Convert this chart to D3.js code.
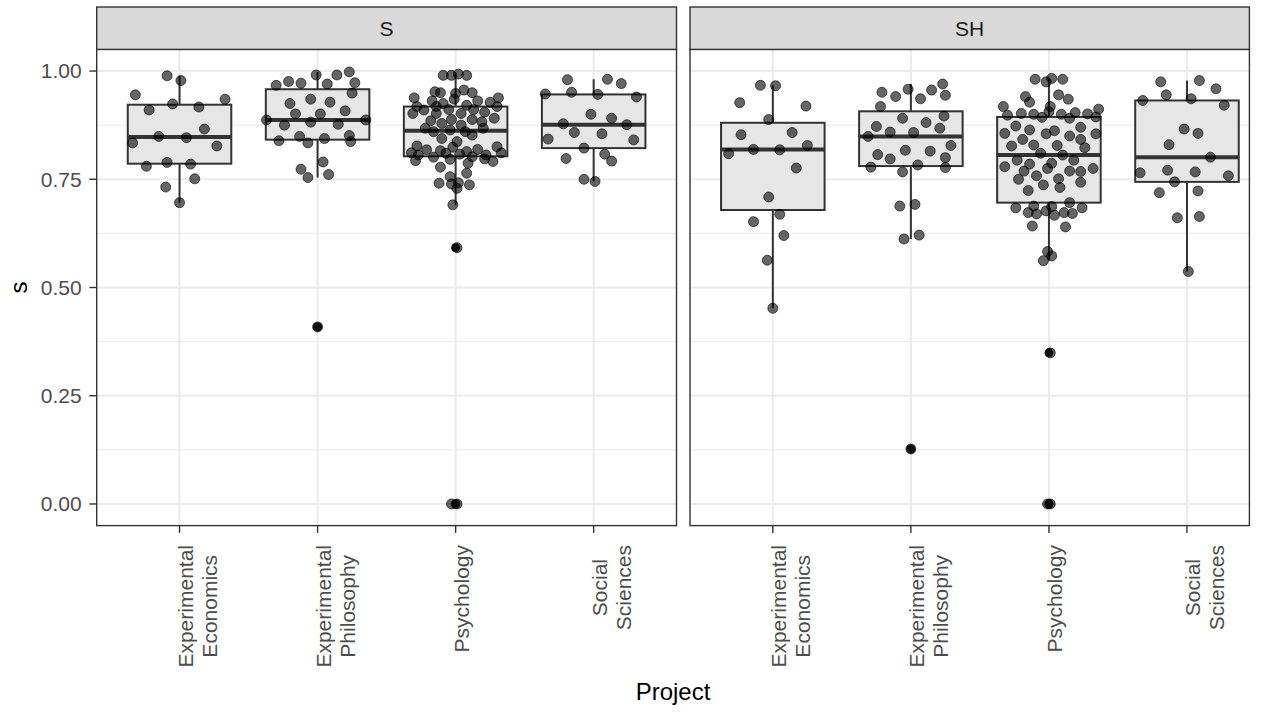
<!DOCTYPE html>
<html>
<head>
<meta charset="utf-8">
<script src="https://cdn.jsdelivr.net/npm/d3@7"></script>
<style>
  body { margin: 0; background: #fff; }
  svg { display: block; }
  text { font-family: "Liberation Sans", Arial, Helvetica, sans-serif; }
</style>
</head>
<body>
<svg id="chart" width="1264" height="713"></svg>
<script>
// ---- categories and facets ----
const projects = ["Experimental Economics", "Experimental Philosophy", "Psychology", "Social Sciences"];
const projectLabels = [["Experimental", "Economics"], ["Experimental", "Philosophy"], ["Psychology"], ["Social", "Sciences"]];
const facets = ["S", "SH"];
const yTicks = [0, 0.25, 0.5, 0.75, 1];
const yTickLabels = ["0.00", "0.25", "0.50", "0.75", "1.00"];
const yMinorTicks = [0.125, 0.375, 0.625, 0.875];

// ---- s values, facet S ----
const sEconS = [0.989, 0.978, 0.945, 0.935, 0.924, 0.910, 0.917, 0.866, 0.849, 0.846, 0.834, 0.827, 0.780, 0.789, 0.785, 0.751, 0.732, 0.696];
const sPhilS = [0.991, 0.998, 0.991, 0.976, 0.972, 0.967, 0.970, 0.973, 0.949, 0.935, 0.925, 0.928, 0.901, 0.901, 0.908, 0.887, 0.887, 0.882, 0.875, 0.877, 0.839, 0.849, 0.834, 0.844, 0.851, 0.837, 0.790, 0.773, 0.754, 0.761, 0.409];
const sPsychS = [0.990, 0.990, 0.993, 0.990, 0.952, 0.950, 0.956, 0.948, 0.950, 0.938, 0.931, 0.925, 0.935, 0.931, 0.938, 0.918, 0.910, 0.918, 0.911, 0.921, 0.911, 0.928, 0.918, 0.902, 0.902, 0.902, 0.888, 0.905, 0.891, 0.885, 0.888, 0.883, 0.868, 0.879, 0.875, 0.868, 0.860, 0.864, 0.860, 0.852, 0.844, 0.837, 0.824, 0.827, 0.811, 0.806, 0.818, 0.816, 0.810, 0.814, 0.819, 0.806, 0.825, 0.811, 0.793, 0.801, 0.796, 0.808, 0.802, 0.797, 0.791, 0.778, 0.787, 0.764, 0.756, 0.741, 0.739, 0.742, 0.737, 0.729, 0.691, 0.592, 0.000, 0.000];
const sSocS = [0.980, 0.981, 0.971, 0.947, 0.951, 0.946, 0.940, 0.900, 0.891, 0.878, 0.876, 0.858, 0.855, 0.843, 0.841, 0.822, 0.798, 0.808, 0.792, 0.750, 0.745];

// ---- s values, facet SH ----
const sEconSH = [0.967, 0.966, 0.927, 0.919, 0.888, 0.853, 0.858, 0.828, 0.809, 0.819, 0.818, 0.776, 0.709, 0.669, 0.652, 0.620, 0.563, 0.452];
const sPhilSH = [0.951, 0.941, 0.958, 0.936, 0.956, 0.970, 0.944, 0.918, 0.891, 0.881, 0.896, 0.872, 0.868, 0.859, 0.858, 0.849, 0.828, 0.807, 0.817, 0.815, 0.797, 0.800, 0.778, 0.783, 0.777, 0.767, 0.688, 0.692, 0.612, 0.621, 0.127];
const sPsychSH = [0.981, 0.975, 0.983, 0.981, 0.941, 0.928, 0.945, 0.935, 0.918, 0.918, 0.898, 0.902, 0.900, 0.893, 0.906, 0.900, 0.891, 0.904, 0.901, 0.894, 0.912, 0.873, 0.864, 0.856, 0.855, 0.862, 0.850, 0.870, 0.855, 0.842, 0.842, 0.827, 0.829, 0.828, 0.823, 0.810, 0.806, 0.794, 0.794, 0.785, 0.787, 0.779, 0.769, 0.775, 0.769, 0.768, 0.775, 0.750, 0.758, 0.751, 0.743, 0.737, 0.731, 0.724, 0.684, 0.688, 0.687, 0.696, 0.684, 0.673, 0.670, 0.677, 0.667, 0.673, 0.671, 0.642, 0.640, 0.583, 0.573, 0.562, 0.349, 0.000, 0.000];
const sSocSH = [0.975, 0.978, 0.959, 0.945, 0.932, 0.936, 0.921, 0.866, 0.856, 0.830, 0.801, 0.765, 0.771, 0.767, 0.758, 0.744, 0.719, 0.723, 0.661, 0.664, 0.537];

// ---- horizontal jitter of each point, as a fraction of the category step ----
const jitEconS = [-0.09, 0.01, -0.32, 0.33, -0.05, -0.22, 0.14, 0.18, -0.15, 0.05, -0.34, 0.27, -0.24, -0.09, 0.08, 0.11, -0.10, 0.00];
const jitPhilS = [-0.01, 0.23, 0.14, -0.21, -0.12, -0.30, 0.07, 0.27, 0.25, -0.05, -0.20, 0.09, -0.16, 0.02, 0.20, -0.37, 0.35, -0.05, -0.24, 0.15, -0.28, -0.13, -0.07, 0.05, 0.23, 0.24, 0.04, -0.12, -0.07, 0.08, 0.00];
const jitPsychS = [-0.09, -0.03, 0.02, 0.08, -0.15, -0.11, 0.06, 0.00, 0.12, -0.30, -0.17, -0.09, -0.01, 0.16, 0.31, -0.28, -0.23, -0.14, -0.05, 0.08, 0.13, 0.25, 0.30, -0.31, -0.14, 0.04, 0.12, 0.21, 0.28, -0.18, -0.03, 0.19, -0.22, -0.10, 0.04, 0.20, -0.16, -0.04, 0.07, 0.12, -0.10, 0.01, -0.02, -0.28, -0.32, -0.27, -0.21, -0.11, -0.07, 0.08, 0.16, 0.22, 0.30, 0.33, -0.29, -0.16, -0.04, 0.03, 0.12, 0.21, 0.27, -0.11, 0.09, 0.08, -0.04, -0.12, -0.03, 0.02, 0.10, 0.01, -0.02, 0.01, -0.03, 0.01];
const jitSocS = [-0.19, 0.10, 0.20, -0.35, -0.16, 0.03, 0.31, -0.02, 0.13, -0.22, 0.24, -0.14, 0.06, -0.33, 0.29, -0.07, -0.20, 0.08, 0.13, -0.07, 0.01];
const jitEconSH = [-0.09, 0.02, -0.24, 0.24, -0.03, -0.23, 0.14, 0.25, -0.32, -0.14, 0.05, 0.17, -0.03, 0.05, -0.14, 0.08, -0.04, 0.00];
const jitPhilSH = [-0.21, -0.11, -0.02, 0.07, 0.15, 0.23, 0.25, -0.22, -0.06, 0.11, 0.24, -0.25, 0.21, -0.15, 0.02, -0.31, 0.29, -0.24, -0.04, 0.14, -0.15, 0.25, -0.29, 0.05, 0.25, -0.06, -0.08, 0.03, -0.05, 0.06, 0.00];
const jitPsychSH = [-0.10, -0.02, 0.02, 0.10, -0.17, -0.14, 0.07, 0.14, 0.01, -0.33, -0.30, -0.20, -0.11, -0.05, 0.00, 0.09, 0.15, 0.19, 0.28, 0.34, 0.36, -0.24, -0.14, -0.32, -0.02, 0.04, 0.15, 0.23, 0.34, -0.19, 0.23, -0.27, -0.11, 0.06, 0.26, -0.06, 0.10, -0.23, 0.18, -0.14, 0.02, -0.32, -0.18, -0.01, 0.15, 0.23, 0.32, -0.22, -0.09, 0.07, 0.23, -0.04, 0.08, -0.15, -0.24, -0.11, 0.02, 0.15, 0.24, -0.15, -0.09, -0.02, 0.04, 0.11, 0.17, -0.12, 0.12, -0.01, 0.02, -0.04, 0.01, -0.01, 0.01];
const jitSocSH = [-0.19, 0.09, 0.21, -0.15, -0.32, 0.03, 0.27, -0.02, 0.08, -0.13, 0.17, -0.34, -0.14, 0.06, 0.30, -0.09, -0.20, 0.08, -0.07, 0.09, 0.01];

const groups = [
  { facet: "S",  project: projects[0], values: sEconS,   jitter: jitEconS },
  { facet: "S",  project: projects[1], values: sPhilS,   jitter: jitPhilS },
  { facet: "S",  project: projects[2], values: sPsychS,  jitter: jitPsychS },
  { facet: "S",  project: projects[3], values: sSocS,    jitter: jitSocS },
  { facet: "SH", project: projects[0], values: sEconSH,  jitter: jitEconSH },
  { facet: "SH", project: projects[1], values: sPhilSH,  jitter: jitPhilSH },
  { facet: "SH", project: projects[2], values: sPsychSH, jitter: jitPsychSH },
  { facet: "SH", project: projects[3], values: sSocSH,   jitter: jitSocSH }
];

// ---- layout ----
const panelTop = 49.4, panelBottom = 525.6;
const stripTop = 7;
const panels = [{ left: 96.7, right: 676.5 }, { left: 690, right: 1249.4 }];
const stepWidth = 579.8;   // span used by the category scale in each panel
const tickFont = 21, titleFont = 24;

const svg = d3.select("#chart");

const y = d3.scaleLinear().domain([-0.05, 1.05]).range([panelBottom, panelTop]);

facets.forEach((facet, fi) => {
  const { left: x0, right: x1 } = panels[fi];
  const pw = x1 - x0;
  const x = d3.scalePoint().domain(projects).range([x0, x0 + stepWidth]).padding(0.6);
  const step = x.step();
  const g = svg.append("g");

  // panel background and grid
  g.append("rect").attr("x", x0).attr("y", panelTop).attr("width", pw).attr("height", panelBottom - panelTop).attr("fill", "#fff");
  g.selectAll(".minor").data(yMinorTicks).join("line")
    .attr("x1", x0).attr("x2", x1)
    .attr("y1", d => y(d)).attr("y2", d => y(d))
    .attr("stroke", "#ebebeb").attr("stroke-width", 1);
  g.selectAll(".majorY").data(yTicks).join("line")
    .attr("x1", x0).attr("x2", x1)
    .attr("y1", d => y(d)).attr("y2", d => y(d))
    .attr("stroke", "#ebebeb").attr("stroke-width", 2);
  g.selectAll(".majorX").data(projects).join("line")
    .attr("x1", d => x(d)).attr("x2", d => x(d))
    .attr("y1", panelTop).attr("y2", panelBottom)
    .attr("stroke", "#ebebeb").attr("stroke-width", 2);

  // boxplots
  const boxW = step * 0.75;
  groups.filter(gr => gr.facet === facet).forEach(gr => {
    const sorted = gr.values.slice().sort(d3.ascending);
    const q1 = d3.quantile(sorted, 0.25), med = d3.quantile(sorted, 0.5), q3 = d3.quantile(sorted, 0.75);
    const iqr = q3 - q1;
    const inside = sorted.filter(v => v >= q1 - 1.5 * iqr && v <= q3 + 1.5 * iqr);
    const lo = d3.min(inside), hi = d3.max(inside);
    const outliers = sorted.filter(v => v < q1 - 1.5 * iqr || v > q3 + 1.5 * iqr);
    const cx = x(gr.project);
    g.append("line").attr("x1", cx).attr("x2", cx).attr("y1", y(q3)).attr("y2", y(hi))
      .attr("stroke", "#333").attr("stroke-width", 2);
    g.append("line").attr("x1", cx).attr("x2", cx).attr("y1", y(q1)).attr("y2", y(lo))
      .attr("stroke", "#333").attr("stroke-width", 2);
    g.append("rect").attr("x", cx - boxW / 2).attr("y", y(q3)).attr("width", boxW).attr("height", y(q1) - y(q3))
      .attr("fill", "#e6e6e6").attr("stroke", "#333").attr("stroke-width", 2);
    g.append("line").attr("x1", cx - boxW / 2).attr("x2", cx + boxW / 2).attr("y1", y(med)).attr("y2", y(med))
      .attr("stroke", "#333").attr("stroke-width", 4);
    g.selectAll(null).data(outliers).join("circle")
      .attr("cx", cx).attr("cy", d => y(d)).attr("r", 4.5).attr("fill", "#222");
  });

  // jittered points
  groups.filter(gr => gr.facet === facet).forEach(gr => {
    const pts = gr.values.map((v, i) => ({ v, j: gr.jitter[i] }));
    g.selectAll(null).data(pts).join("circle")
      .attr("cx", d => x(gr.project) + d.j * step)
      .attr("cy", d => y(d.v))
      .attr("r", 5)
      .attr("fill", "#000").attr("fill-opacity", 0.6)
      .attr("stroke", "#000").attr("stroke-opacity", 0.6).attr("stroke-width", 1);
  });

  // panel border
  g.append("rect").attr("x", x0).attr("y", panelTop).attr("width", pw).attr("height", panelBottom - panelTop)
    .attr("fill", "none").attr("stroke", "#333").attr("stroke-width", 1.4);

  // strip
  g.append("rect").attr("x", x0).attr("y", stripTop).attr("width", pw).attr("height", panelTop - stripTop)
    .attr("fill", "#d9d9d9").attr("stroke", "#333").attr("stroke-width", 1.4);
  g.append("text").attr("x", x0 + pw / 2).attr("y", (stripTop + panelTop) / 2).attr("dy", "0.35em")
    .attr("text-anchor", "middle").attr("font-size", tickFont).attr("fill", "#1a1a1a").text(facet);

  // x axis ticks and labels
  g.selectAll(".xtick").data(projects).join("line")
    .attr("x1", d => x(d)).attr("x2", d => x(d))
    .attr("y1", panelBottom).attr("y2", panelBottom + 7.3)
    .attr("stroke", "#333").attr("stroke-width", 1.4);
  projects.forEach((p, pi) => {
    const lab = g.append("g").attr("transform", `translate(${x(p)},545) rotate(-90)`);
    const lines = projectLabels[pi];
    const texts = lines.map((ln, li) => lab.append("text")
      .attr("y", 13.5 + li * 24)
      .attr("text-anchor", "middle")
      .attr("font-size", tickFont).attr("fill", "#4d4d4d").text(ln));
    const blockLen = d3.max(texts, t => t.node().getComputedTextLength());
    texts.forEach(t => t.attr("x", -blockLen / 2));
  });

  // y axis on the first panel
  if (fi === 0) {
    g.selectAll(".ytick").data(yTicks).join("line")
      .attr("x1", x0 - 7.3).attr("x2", x0)
      .attr("y1", d => y(d)).attr("y2", d => y(d))
      .attr("stroke", "#333").attr("stroke-width", 1.4);
    g.selectAll(".ylab").data(yTicks).join("text")
      .attr("x", x0 - 15).attr("y", d => y(d)).attr("dy", "0.35em")
      .attr("text-anchor", "end").attr("font-size", tickFont).attr("fill", "#4d4d4d")
      .text((d, i) => yTickLabels[i]);
  }
});

// axis titles
svg.append("text")
  .attr("transform", `translate(27,${(panelTop + panelBottom) / 2}) rotate(-90)`)
  .attr("text-anchor", "middle").attr("font-size", titleFont).attr("fill", "#000").text("s");
svg.append("text")
  .attr("x", (panels[0].left + panels[1].right) / 2).attr("y", 700)
  .attr("text-anchor", "middle").attr("font-size", titleFont).attr("fill", "#000").text("Project");
</script>
</body>
</html>
